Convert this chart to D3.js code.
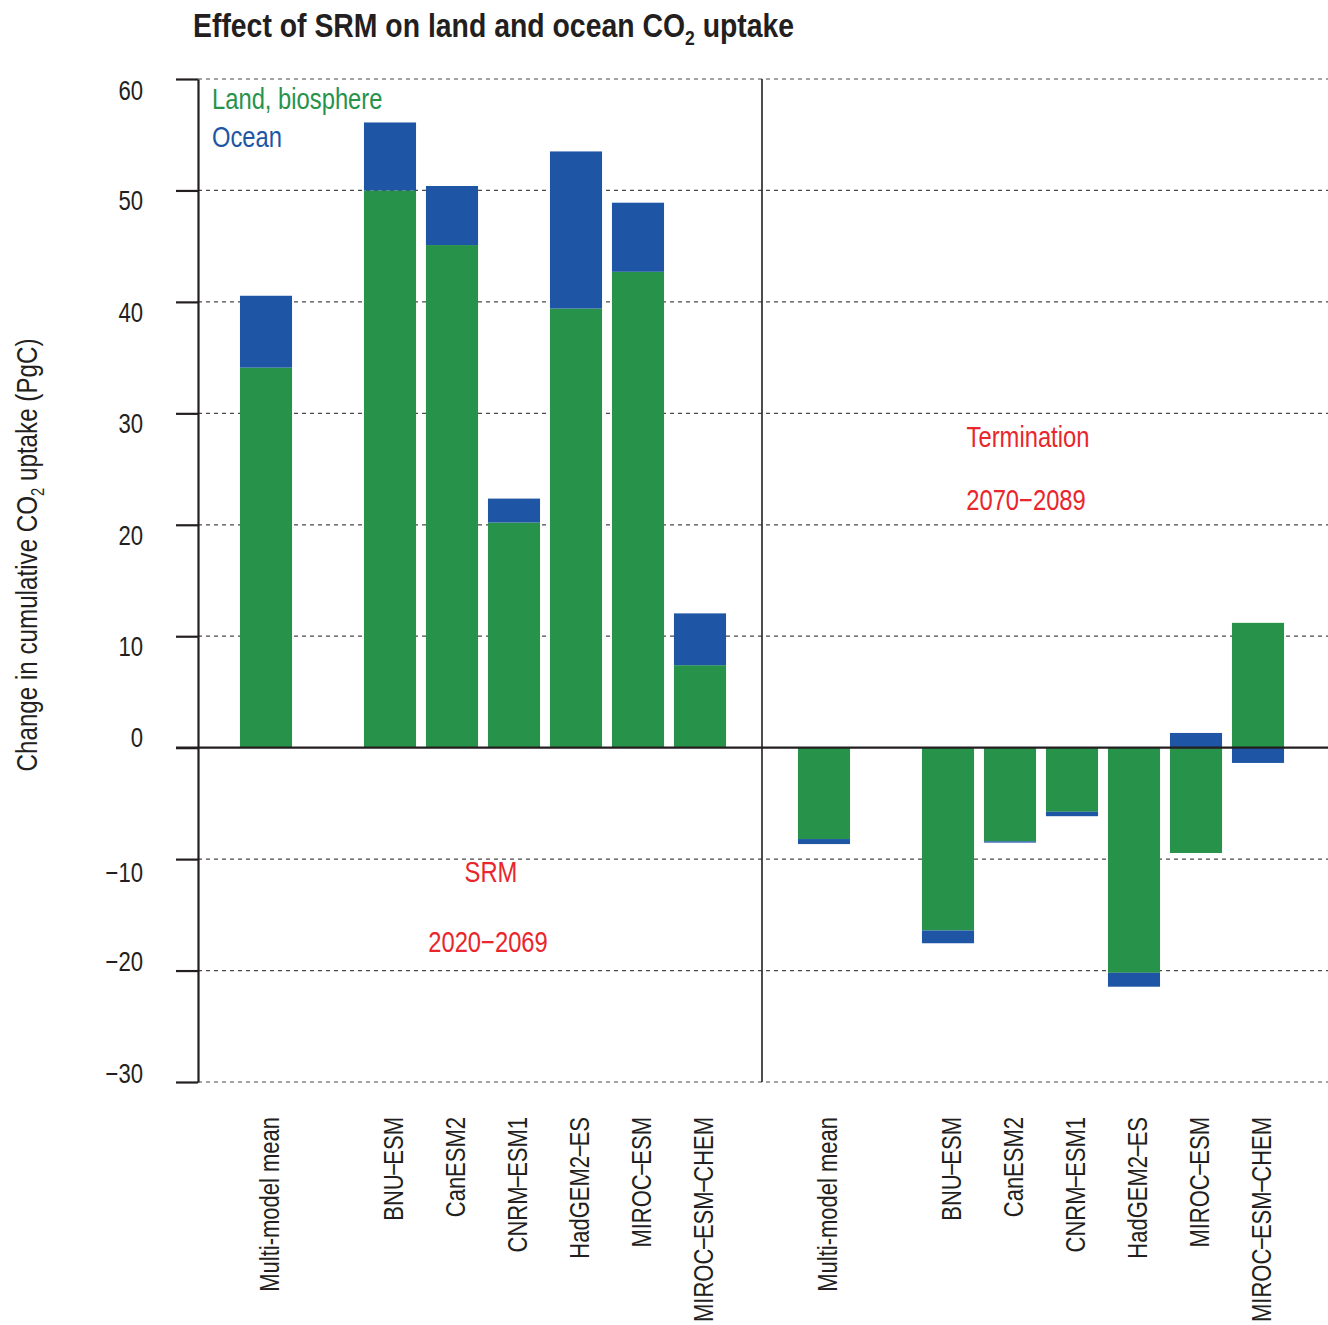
<!DOCTYPE html>
<html>
<head>
<meta charset="utf-8">
<script src="https://cdn.jsdelivr.net/npm/d3@7"></script>
<style>
body { margin: 0; background: #fff; }
text { font-family: "Liberation Sans", Arial, sans-serif; fill: #231f20; }
</style>
</head>
<body>
<div id="chart"></div>
<script>
// data (PgC)
var models = ["Multi-model mean", "BNU\u2212ESM", "CanESM2", "CNRM\u2212ESM1", "HadGEM2\u2212ES", "MIROC\u2212ESM", "MIROC\u2212ESM\u2212CHEM"];
var srmLand   = [34.1, 50.0, 45.1, 20.2, 39.4, 42.7, 7.4];
var srmOcean  = [6.45, 6.1, 5.3, 2.15, 14.1, 6.2, 4.65];
var termLand  = [-8.2, -16.4, -8.4, -5.75, -20.2, -9.45, 11.2];
var termOcean = [-0.45, -1.15, -0.12, -0.4, -1.25, 1.32, -1.37];
var yTicks = [60, 50, 40, 30, 20, 10, 0, -10, -20, -30];

var green = "#27924a", blue = "#1e56a5", red = "#e8262c";
// no condensed font installed, squeeze Liberation Sans instead
function narrow(k) { return 'scale(' + (k || 0.82) + ',1)'; }

var W = 1328, H = 1325;
var svg = d3.select('#chart').append('svg')
  .attr('width', W)
  .attr('height', H);

// 8 slots per panel (mean, gap, six models) and one separator slot between
function panelSlots(p) {
  return [p + '|' + models[0], p + '|gap'].concat(models.slice(1).map(function(m) { return p + '|' + m; }));
}
var slots = panelSlots('srm').concat(['sep'], panelSlots('term'));

var x = d3.scaleBand()
  .domain(slots)
  .range([235, 1289])
  .paddingInner(0.16)
  .paddingOuter(0.08);

var y = d3.scaleLinear()
  .domain([-30, 60])
  .range([1082, 79]);

var rows = models.map(function(m, i) { return {key: 'srm|' + m, name: m, land: srmLand[i], ocean: srmOcean[i]}; })
  .concat(models.map(function(m, i) { return {key: 'term|' + m, name: m, land: termLand[i], ocean: termOcean[i]}; }));

var series = d3.stack()
  .keys(['land', 'ocean'])
  .offset(d3.stackOffsetDiverging)(rows);

// dashed grid
svg.append('g')
  .selectAll('line')
  .data(yTicks.filter(function(d) { return d !== 0; }))
  .enter()
  .append('line')
    .attr('x1', 198).attr('x2', W)
    .attr('y1', function(d) { return y(d); })
    .attr('y2', function(d) { return y(d); })
    .attr('stroke', '#4a4a4a')
    .attr('stroke-width', 1.2)
    .attr('stroke-dasharray', '4,4');

// bars
svg.append('g')
  .selectAll('g')
  .data(series)
  .enter()
  .append('g')
    .attr('fill', function(s) { return s.key === 'land' ? green : blue; })
  .selectAll('rect')
  .data(function(s) { return s; })
  .enter()
  .append('rect')
    .attr('x', function(d) { return x(d.data.key); })
    .attr('width', x.bandwidth())
    .attr('y', function(d) { return y(d[1]); })
    .attr('height', function(d) { return y(d[0]) - y(d[1]); });

// left axis
var axis = svg.append('g')
  .attr('transform', 'translate(198,0)')
  .call(d3.axisLeft(y).tickValues(yTicks).tickSize(22).tickSizeOuter(0).tickFormat(''));
axis.select('.domain').attr('stroke', '#231f20').attr('stroke-width', 2.2);
axis.selectAll('.tick line').attr('stroke', '#231f20').attr('stroke-width', 2.2);

// tick labels sit a little off their ticks in the original
var labelNudge = {60: 21, 50: 20, 40: 20, 30: 20, 20: 20, 10: 20, 0: -1, '-10': 23, '-20': 0, '-30': 1};
svg.append('g')
  .selectAll('text')
  .data(yTicks)
  .enter()
  .append('text')
    .attr('transform', function(d) { return 'translate(143,' + (y(d) + labelNudge[d]) + ')' + narrow(); })
    .attr('text-anchor', 'end')
    .style('font-size', '27px')
    .text(function(d) { return d < 0 ? '\u2212' + Math.abs(d) : d; });

// zero line and panel separator
svg.append('line')
  .attr('x1', 176).attr('x2', W)
  .attr('y1', y(0)).attr('y2', y(0))
  .attr('stroke', '#231f20').attr('stroke-width', 2.4);

var sepX = x('sep') + x.bandwidth() / 2;
svg.append('line')
  .attr('x1', sepX).attr('x2', sepX)
  .attr('y1', y(60)).attr('y2', y(-30))
  .attr('stroke', '#231f20').attr('stroke-width', 1.6);

// category labels (dashes set a bit tighter, like the original)
svg.append('g')
  .selectAll('text')
  .data(rows)
  .enter()
  .append('text')
    .attr('transform', function(d) { return 'translate(' + (x(d.key) + x.bandwidth() / 2 + 3.5) + ',1117)rotate(-90)' + narrow(0.8); })
    .attr('dy', '0.35em')
    .attr('text-anchor', 'end')
    .style('font-size', '27.5px')
    .each(function(d) {
      var t = d3.select(this);
      d.name.split('\u2212').forEach(function(part, i) {
        if (i > 0) t.append('tspan').attr('dx', -2).text('\u2212');
        t.append('tspan').attr('dx', i > 0 ? -2 : 0).text(part);
      });
    });

// legend
svg.append('text').attr('transform', 'translate(212,109)' + narrow()).style('font-size', '29px').style('fill', green).text('Land, biosphere');
svg.append('text').attr('transform', 'translate(212,147)' + narrow()).style('font-size', '29px').style('fill', blue).text('Ocean');

// period annotations
var notes = [
  {t: 'SRM', x: 491, y: 882},
  {t: '2020\u22122069', x: 488, y: 952},
  {t: 'Termination', x: 1028, y: 447},
  {t: '2070\u22122089', x: 1026, y: 510}
];
svg.append('g')
  .selectAll('text')
  .data(notes)
  .enter()
  .append('text')
    .attr('transform', function(d) { return 'translate(' + d.x + ',' + d.y + ')' + narrow(); })
    .attr('text-anchor', 'middle')
    .style('font-size', '29px')
    .style('fill', red)
    .text(function(d) { return d.t; });

// y-label
var yl = svg.append('text')
  .attr('transform', 'translate(37,555)rotate(-90)' + narrow())
  .attr('text-anchor', 'middle')
  .style('font-size', '29.5px');
yl.append('tspan').text('Change in cumulative CO');
yl.append('tspan').attr('dy', 7).style('font-size', '18px').text('2');
yl.append('tspan').attr('dy', -7).text(' uptake (PgC)');

// title
var title = svg.append('text')
  .attr('transform', 'translate(193,37)' + narrow(0.835))
  .style('font-size', '34px')
  .style('font-weight', 'bold');
title.append('tspan').text('Effect of SRM on land and ocean CO');
title.append('tspan').attr('dy', 8).style('font-size', '21px').text('2');
title.append('tspan').attr('dy', -8).text(' uptake');
</script>
</body>
</html>
